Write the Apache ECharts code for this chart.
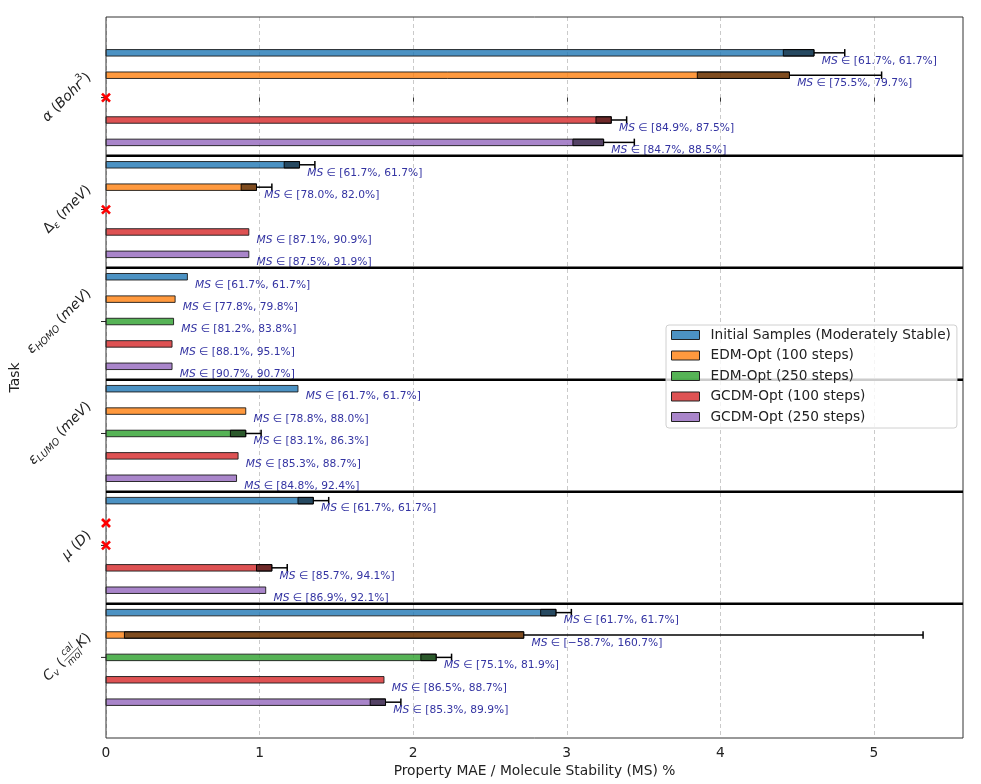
<!DOCTYPE html>
<html><head><meta charset="utf-8">
<script src="https://cdn.jsdelivr.net/npm/echarts@6/dist/echarts.min.js"></script>
<style>html,body{margin:0;padding:0;background:#fff}#c{width:981px;height:784px}</style>
</head><body><div id="c"></div>
<script>
// ---------- data ----------
const taskLabels = [
  [{t:'α',i:1},{t:' ('},{t:'Bohr',i:1},{t:'3',sup:1},{t:')'}],
  [{t:'Δ'},{t:'ε',sub:1,i:1},{t:' ('},{t:'meV',i:1},{t:')'}],
  [{t:'ε',i:1},{t:'HOMO',sub:1,i:1},{t:' ('},{t:'meV',i:1},{t:')'}],
  [{t:'ε',i:1},{t:'LUMO',sub:1,i:1},{t:' ('},{t:'meV',i:1},{t:')'}],
  [{t:'μ',i:1},{t:' ('},{t:'D',i:1},{t:')'}],
  [{t:'C',i:1},{t:'v',sub:1,i:1},{t:' ('},{num:'cal',den:'mol',i:1},{t:'K',i:1},{t:')'}]
];
const methods = ['Initial Samples (Moderately Stable)','EDM-Opt (100 steps)','EDM-Opt (250 steps)','GCDM-Opt (100 steps)','GCDM-Opt (250 steps)'];
const baseColors = [[31,119,180],[255,127,14],[44,160,44],[214,39,40],[148,103,189]];

const maeInitial = [4.61, 1.26, 0.53, 1.25, 1.35, 2.93];
const errInitial = [0.20, 0.10, 0, 0, 0.10, 0.10];
const msInitial  = [[61.7,61.7],[61.7,61.7],[61.7,61.7],[61.7,61.7],[61.7,61.7],[61.7,61.7]];

const maeEdm100 = [4.45, 0.98, 0.45, 0.91, null, 2.72];
const errEdm100 = [0.60, 0.10, 0, 0, null, 2.60];
const msEdm100  = [[75.5,79.7],[78.0,82.0],[77.8,79.8],[78.8,88.0],null,[-58.7,160.7]];

const maeEdm250 = [null, null, 0.44, 0.91, null, 2.15];
const errEdm250 = [null, null, 0, 0.10, null, 0.10];
const msEdm250  = [null, null, [81.2,83.8],[83.1,86.3],null,[75.1,81.9]];

const maeGcdm100 = [3.29, 0.93, 0.43, 0.86, 1.08, 1.81];
const errGcdm100 = [0.10, 0, 0, 0, 0.10, 0];
const msGcdm100  = [[84.9,87.5],[87.1,90.9],[88.1,95.1],[85.3,88.7],[85.7,94.1],[86.5,88.7]];

const maeGcdm250 = [3.24, 0.93, 0.43, 0.85, 1.04, 1.82];
const errGcdm250 = [0.20, 0, 0, 0, 0, 0.10];
const msGcdm250  = [[84.7,88.5],[87.5,91.9],[90.7,90.7],[84.8,92.4],[86.9,92.1],[85.3,89.9]];

const xTicks = [0,1,2,3,4,5];
const xMax = 5.58;
const yMin = -0.72, yMax = 5.72;

const maeAll = [maeInitial, maeEdm100, maeEdm250, maeGcdm100, maeGcdm250];
const errAll = [errInitial, errEdm100, errEdm250, errGcdm100, errGcdm250];
const msAll  = [msInitial, msEdm100, msEdm250, msGcdm100, msGcdm250];

// ---------- helpers ----------
const FONT = '"DejaVu Sans", sans-serif';
const TXT = '#222';
const LABEL_COLOR = '#3333a2';
const MSF = 10.7;
const mctx = document.createElement('canvas').getContext('2d');
function tw(t, size, it){ mctx.font = (it?'italic ':'') + size + 'px "DejaVu Sans"'; return mctx.measureText(t).width; }
const BASE = 13.8, SMALL = 9.6;
function layoutLabel(pcs){
  const items = []; let x = 0;
  pcs.forEach(p => {
    if (p.num) {
      const w = Math.max(tw(p.num,SMALL,p.i), tw(p.den,SMALL,p.i)) + 2;
      items.push({frac:true, x:x+1, w, num:p.num, den:p.den, i:p.i}); x += w + 2;
    } else {
      const s = (p.sub||p.sup) ? SMALL : BASE;
      items.push({t:p.t, x, s, i:p.i, dy: p.sub ? 3.8 : (p.sup ? -5.5 : 0)});
      x += tw(p.t, s, p.i);
    }
  });
  return {items, W:x};
}
const layouts = taskLabels.map(layoutLabel);
const fmt = v => (v < 0 ? '−' : '') + Math.abs(v).toFixed(1) + '%';
const msW = tw('MS', MSF, true);

const series = [];
methods.forEach((name, m) => {
  const c = baseColors[m];
  const fill = `rgba(${c[0]},${c[1]},${c[2]},0.8)`;
  const data = [];
  maeAll[m].forEach((v, i) => {
    if (v == null) return;
    data.push([i - 0.4 + 0.2*m, v, errAll[m][i], msAll[m][i][0], msAll[m][i][1]]);
  });
  series.push({
    type:'custom', name, z:2, itemStyle:{color:fill, borderColor:'#000', borderWidth:1},
    encode:{x:1, y:0},
    data,
    renderItem(params, api){
      const y = api.value(0), v = api.value(1), e = api.value(2);
      const lo = api.value(3), hi = api.value(4);
      const p0 = api.coord([0, y]), p1 = api.coord([v, y]);
      const h = api.size([0, 0.058])[1];
      const ch = [];
      ch.push({type:'rect', shape:{x:p0[0], y:p0[1]-h/2, width:p1[0]-p0[0], height:h},
        style:{fill, stroke:'#1a1a1a', lineWidth:0.9}});
      if (e > 0) {
        const pl = api.coord([v - e, y]), pr = api.coord([v + e, y]);
        ch.push({type:'rect', shape:{x:pl[0], y:p0[1]-h/2, width:p1[0]-pl[0], height:h},
          style:{fill:'rgba(0,0,0,0.5)', stroke:'#000', lineWidth:0.9}});
        ch.push({type:'line', shape:{x1:p1[0], y1:p0[1], x2:pr[0], y2:p0[1]}, style:{stroke:'#000', lineWidth:1.5}});
        ch.push({type:'line', shape:{x1:pr[0], y1:p0[1]-h/2-0.5, x2:pr[0], y2:p0[1]+h/2+0.5}, style:{stroke:'#000', lineWidth:1.5}});
      }
      const pt = api.coord([v + 0.05, y]);
      ch.push({type:'text', x:pt[0], y:pt[1]+8, style:{text:'MS', fontSize:MSF, fontStyle:'italic', fontFamily:FONT, fill:LABEL_COLOR, align:'left', verticalAlign:'middle'}});
      ch.push({type:'text', x:pt[0]+msW, y:pt[1]+8, style:{text:' ∈ [' + fmt(lo) + ', ' + fmt(hi) + ']', fontSize:MSF, fontFamily:FONT, fill:LABEL_COLOR, align:'left', verticalAlign:'middle'}});
      return {type:'group', children:ch};
    }
  });
});

// task labels, y ticks, separators, frame
series.push({
  type:'custom', name:'tasks', z:3, silent:true,
  encode:{x:1, y:0},
  data: taskLabels.map((t, i) => [i, 0]),
  renderItem(params, api){
    const i = api.value(0);
    const p = api.coord([0, i]);
    const L = layouts[i];
    const ch = [];
    ch.push({type:'line', shape:{x1:p[0]-5, y1:p[1], x2:p[0], y2:p[1]}, style:{stroke:'#222', lineWidth:1}});
    const lc = [];
    L.items.forEach(it => {
      const x = it.x - L.W;
      if (it.frac) {
        lc.push({type:'text', x:x+it.w/2, y:-5.5, style:{text:it.num, fontSize:SMALL, fontStyle:'italic', fontFamily:FONT, fill:TXT, align:'center', verticalAlign:'middle'}});
        lc.push({type:'text', x:x+it.w/2, y:6, style:{text:it.den, fontSize:SMALL, fontStyle:'italic', fontFamily:FONT, fill:TXT, align:'center', verticalAlign:'middle'}});
        lc.push({type:'line', shape:{x1:x, y1:0.5, x2:x+it.w, y2:0.5}, style:{stroke:TXT, lineWidth:0.8}});
      } else {
        lc.push({type:'text', x, y:it.dy, style:{text:it.t, fontSize:it.s, fontStyle:it.i?'italic':'normal', fontFamily:FONT, fill:TXT, align:'left', verticalAlign:'middle'}});
      }
    });
    ch.push({type:'group', x:p[0]-17, y:p[1]-0.354*L.W, rotation:Math.PI/4, children:lc});
    if (i < taskLabels.length - 1) {
      const a = api.coord([0, i + 0.52]), b = api.coord([xMax, i + 0.52]);
      ch.push({type:'line', shape:{x1:a[0], y1:a[1], x2:b[0], y2:b[1]}, style:{stroke:'#000', lineWidth:2.5}});
    }
    if (i === 0) {
      const tl = api.coord([0, yMin]), br = api.coord([xMax, yMax]);
      ch.push({type:'rect', shape:{x:tl[0], y:tl[1], width:br[0]-tl[0], height:br[1]-tl[1]}, style:{fill:'none', stroke:'#333', lineWidth:1}});
    }
    return {type:'group', children:ch};
  }
});

// missing markers
const missing = [];
maeAll.forEach((arr, m) => arr.forEach((v, i) => { if (v == null) missing.push([i - 0.4 + 0.2*m, 0]); }));
series.push({
  type:'custom', name:'missing', z:4, silent:true,
  encode:{x:1, y:0},
  data: missing,
  renderItem(params, api){
    const p = api.coord([api.value(1), api.value(0)]);
    const r = 4;
    return {type:'group', children:[
      {type:'line', shape:{x1:p[0]-r, y1:p[1]-r, x2:p[0]+r, y2:p[1]+r}, style:{stroke:'#ff0000', lineWidth:2.6}},
      {type:'line', shape:{x1:p[0]-r, y1:p[1]+r, x2:p[0]+r, y2:p[1]-r}, style:{stroke:'#ff0000', lineWidth:2.6}}
    ]};
  }
});

const chart = echarts.init(document.getElementById('c'));
chart.setOption({
  animation:false,
  backgroundColor:'#fff',
  grid:{left:105, top:17, right:18, bottom:46},
  xAxis:{
    type:'value', min:0, max:xMax, interval:1,
    name:'Property MAE / Molecule Stability (MS) %', nameLocation:'middle', nameGap:26,
    nameTextStyle:{fontSize:13.8, color:TXT, fontFamily:FONT},
    axisLine:{show:false},
    axisTick:{show:true, length:4, customValues:xTicks, lineStyle:{color:'#333'}},
    axisLabel:{customValues:xTicks, margin:8, fontSize:13.8, color:TXT, fontFamily:FONT},
    splitLine:{show:true, lineStyle:{color:'#c4c4c4', type:[4,3], width:0.9}}
  },
  yAxis:{
    type:'value', min:yMin, max:yMax, inverse:true,
    name:'Task', nameLocation:'middle', nameGap:84, nameRotate:90,
    nameTextStyle:{fontSize:13.8, color:TXT, fontFamily:FONT},
    axisLine:{show:false}, axisTick:{show:false}, axisLabel:{show:false}, splitLine:{show:false}
  },
  legend:{
    orient:'vertical', left:666, top:325,
    data: methods.map(n => ({name:n, itemStyle:{borderColor:'#222', borderWidth:1}})),
    icon:'rect', itemWidth:28, itemHeight:9, itemGap:4.5,
    padding:[2,6,3,5],
    backgroundColor:'rgba(255,255,255,0.8)', borderColor:'#d0d0d0', borderWidth:1, borderRadius:3,
    textStyle:{fontSize:13.7, color:TXT, fontFamily:FONT, lineHeight:16, padding:[0,0,0,6]},
    selectedMode:false
  },
  series
});
</script></body></html>
